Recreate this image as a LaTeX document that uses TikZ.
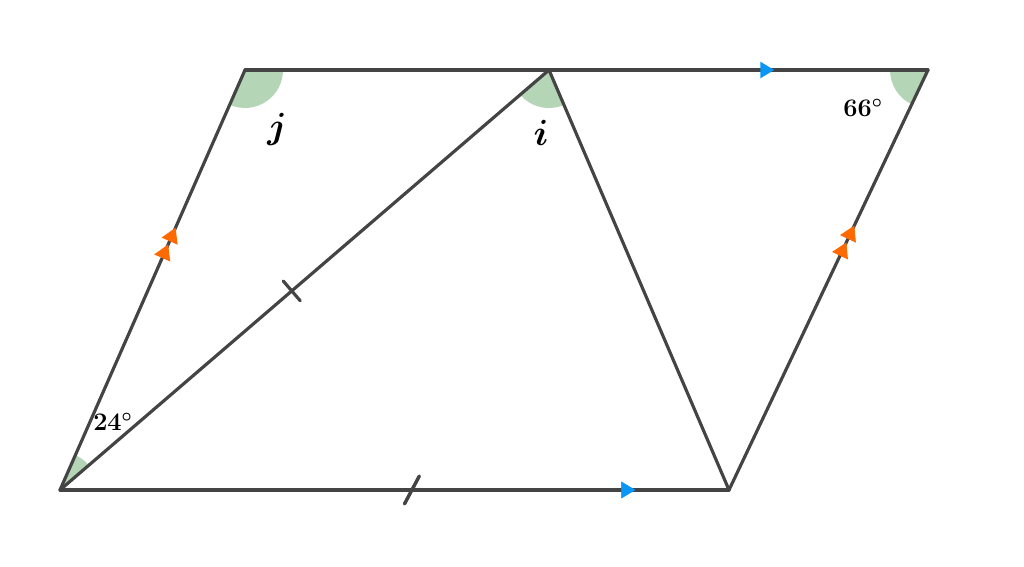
\documentclass[tikz,border=0pt]{standalone}
\usepackage{amsmath}
\usetikzlibrary{angles,decorations.markings,arrows.meta}
\definecolor{ln}{HTML}{444444}
\definecolor{agr}{HTML}{B5D5B7}
\definecolor{bl}{HTML}{0A96F5}
\definecolor{orn}{HTML}{FF6A00}
\tikzset{
  seg/.style={draw=ln, line width=1.8pt, line cap=round},
  sector/.style={draw=none, fill=agr, angle radius=0.76cm},
  lbl/.style={font=\fontsize{14.5}{17}\selectfont\boldmath, text=black, inner sep=0pt},
  biglbl/.style={font=\fontsize{20}{24}\selectfont\boldmath, text=black, inner sep=0pt},
  bluemark/.style={postaction={decorate}, decoration={markings, mark=at position #1 with {\arrow{Triangle[length=8pt,width=9pt,fill=bl,color=bl]}}}},
  orangemarks/.style 2 args={postaction={decorate}, decoration={markings,
     mark=at position #1 with {\arrow{Triangle[length=8.5pt,width=9.5pt,fill=orn,color=orn]}},
     mark=at position #2 with {\arrow{Triangle[length=8.5pt,width=9.5pt,fill=orn,color=orn]}}}},
  perptick/.style={postaction={decorate}, decoration={markings, mark=at position #1 with {\draw[ln, line width=1.8pt] (0,-7.4pt)--(0,7.4pt);}}},
  slanttick/.style={postaction={decorate}, decoration={markings, mark=at position #1 with {\draw[ln, line width=1.8pt] (-4.2pt,-7.9pt)--(4.2pt,7.9pt);}}}
}
\begin{document}
\begin{tikzpicture}[x=0.02cm,y=0.02cm]
\fill[white] (0,0) rectangle (1024,567);
\useasboundingbox (0,0) rectangle (1024,567);
\coordinate (A) at (60,77);
\coordinate (B) at (245,497);
\coordinate (C) at (549,497);
\coordinate (D) at (928,497);
\coordinate (E) at (729,77);
% angle sectors
\pic[sector] {angle = A--B--C};
\pic[sector] {angle = A--C--E};
\pic[sector] {angle = B--D--E};
\pic[sector] {angle = C--A--B};
% segments
\draw[seg, bluemark=0.775] (B) -- (D);
\draw[seg, bluemark=0.86, slanttick=0.526] (A) -- (E);
\draw[seg, orangemarks={0.585}{0.625}] (A) -- (B);
\draw[seg, orangemarks={0.59}{0.63}] (E) -- (D);
\draw[seg, perptick=0.474] (A) -- (C);
\draw[seg] (C) -- (E);
% labels
\node[biglbl] (lj) at (277,438) {$j$};
\node[biglbl] (li) at (541,434) {$i$};
\node[lbl] (l66) at (863,459) {$66^\circ$};
\node[lbl] (l24) at (113,145) {$24^\circ$};
\end{tikzpicture}
\end{document}
